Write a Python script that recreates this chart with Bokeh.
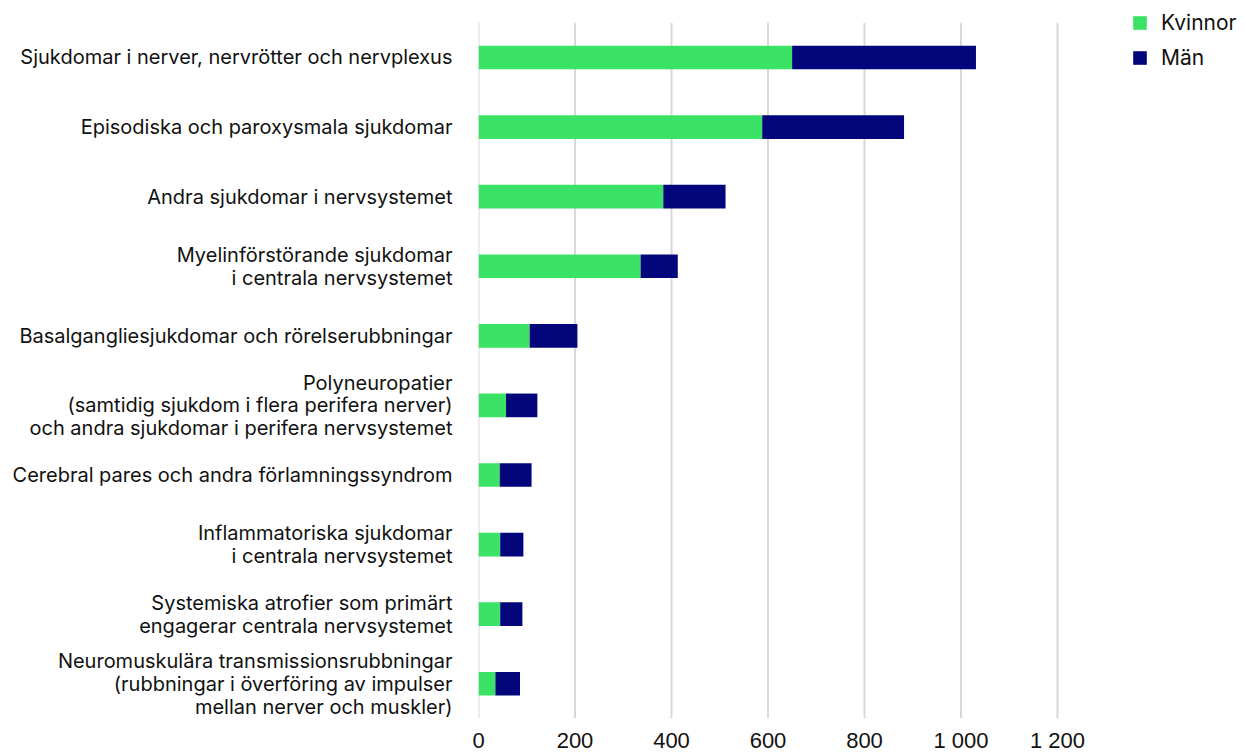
from bokeh.plotting import figure
from bokeh.models import ColumnDataSource, Range1d, FixedTicker, Legend, LegendItem
from bokeh.embed import file_html
from bokeh.resources import INLINE

categories = [
    "Sjukdomar i nerver, nervrötter och nervplexus",
    "Episodiska och paroxysmala sjukdomar",
    "Andra sjukdomar i nervsystemet",
    "Myelinförstörande sjukdomar\ni centrala nervsystemet",
    "Basalgangliesjukdomar och rörelserubbningar",
    "Polyneuropatier\n(samtidig sjukdom i flera perifera nerver)\noch andra sjukdomar i perifera nervsystemet",
    "Cerebral pares och andra förlamningssyndrom",
    "Inflammatoriska sjukdomar\ni centrala nervsystemet",
    "Systemiska atrofier som primärt\nengagerar centrala nervsystemet",
    "Neuromuskulära transmissionsrubbningar\n(rubbningar i överföring av impulser\nmellan nerver och muskler)",
]
kvinnor = [650, 588, 383, 336, 106, 57, 44, 45, 45, 35]
man = [381, 294, 129, 77, 99, 65, 66, 48, 46, 51]
series = ["Kvinnor", "Män"]
x_ticks = [0, 200, 400, 600, 800, 1000, 1200]
x_tick_labels = [f"{t:,}".replace(",", " ") for t in x_ticks]

colors = ["#3AE366", "#02067A"]

n = len(categories)
pos = list(range(n))
src = ColumnDataSource(dict(pos=pos, Kvinnor=kvinnor, Män=man))

# layout (pixels)
W, H = 1246, 755
left, top, bottom = 478, 4, 37
frame_w = W - left
frame_h = H - top - bottom
band_px = 69.6
grid_top_px = 22.2
scale_px_1200 = 579.0
pad_top = (grid_top_px - top) / band_px

p = figure(
    width=W, height=H,
    x_range=Range1d(0, 1200 * frame_w / scale_px_1200),
    y_range=Range1d(n - 0.5, -0.5 - pad_top),
    output_backend="svg", toolbar_location=None,
    min_border_left=left, min_border_right=0, min_border_top=top, min_border_bottom=bottom,
)

# vertical grid lines limited to the category area
p.segment(x0=x_ticks, x1=x_ticks, y0=[-0.5] * len(x_ticks), y1=[n - 0.5] * len(x_ticks),
          line_color="#D9D9D9", line_width=2)

rs = p.hbar_stack(series, y="pos", height=0.34, color=colors, source=src, line_width=0)

p.outline_line_color = None
p.grid.grid_line_color = None

p.xaxis.ticker = FixedTicker(ticks=x_ticks)
p.xaxis.major_label_overrides = {t: l for t, l in zip(x_ticks, x_tick_labels)}
p.xaxis.axis_line_color = None
p.xaxis.major_tick_line_color = None
p.xaxis.minor_tick_line_color = None
p.xaxis.major_tick_out = 0
p.xaxis.minor_tick_out = 0
p.xaxis.major_label_text_font = "Liberation Sans"
p.xaxis.major_label_text_font_size = "22px"
p.xaxis.major_label_text_color = "#111111"
p.xaxis.major_label_standoff = 9

p.yaxis.ticker = FixedTicker(ticks=pos)
p.yaxis.major_label_overrides = {i: c for i, c in zip(pos, categories)}
p.yaxis.axis_line_color = None
p.yaxis.major_tick_line_color = None
p.yaxis.minor_tick_line_color = None
p.yaxis.major_tick_out = 0
p.yaxis.minor_tick_out = 0
p.yaxis.major_label_text_font = "Inter"
p.yaxis.major_label_text_font_size = "20px"
p.yaxis.major_label_text_color = "#111111"
p.yaxis.major_label_standoff = 26
p.yaxis.major_label_text_line_height = 0.95

row_h, gap = 30, 5
legend_h = 2 * row_h + gap
legend_top_page = 7.5
legend = Legend(
    items=[LegendItem(label=s, renderers=[r]) for s, r in zip(series, rs)],
    location=(653, frame_h - (legend_top_page - top) - legend_h),
    orientation="vertical",
    border_line_color=None,
    background_fill_alpha=0,
    label_text_font="Inter",
    label_text_font_size="21px",
    label_text_color="#111111",
    glyph_width=17, glyph_height=17,
    label_height=row_h,
    spacing=gap, padding=0, margin=0,
    label_standoff=13,
)
p.add_layout(legend, "center")

open("out.html", "w").write(file_html(p, INLINE))
